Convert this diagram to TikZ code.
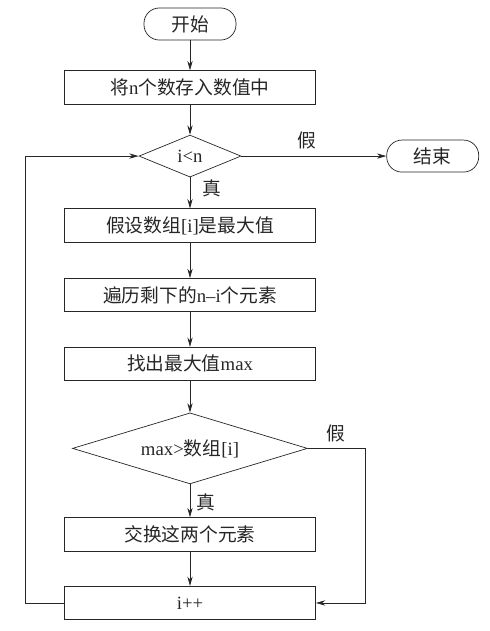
\documentclass[tikz,border=0pt]{standalone}
\usepackage{fontspec}
\setmainfont{Liberation Serif}
\newfontfamily\cjk{Noto Sans CJK SC}
\usetikzlibrary{arrows.meta,positioning,shapes.geometric}

\begin{document}
\begin{tikzpicture}[>={Stealth[length=8pt,width=4.5pt]}, line width=0.6pt, draw=black!85,
  every node/.style={font=\fontsize{16}{19}\selectfont, text=black!85},
  termbox/.style={draw,rounded corners=13pt,minimum width=2.76cm,minimum height=0.96cm,inner sep=0pt},
  procbox/.style={draw,minimum width=7.53cm,minimum height=1cm,inner sep=0pt},
  decide/.style={draw,diamond,inner sep=0pt}]
\useasboundingbox (0,0) rectangle (14.7,-18.93);
\node[termbox] (start) at (5.7,-0.72) {\cjk 开始};
\node[procbox,below=0.9cm of start] (fill) {\cjk 将\rmfamily n\cjk 个数存入数值中};
\node[decide,below=0.91cm of fill,aspect=2.43,minimum width=3.06cm,minimum height=1.26cm] (d1) {i<n};
\node[termbox,right=4.35cm of d1] (stop) {\cjk 结束};
\node[procbox,below=0.93cm of d1] (assume) {\cjk 假设数组\rmfamily [i]\cjk 是最大值};
\node[procbox,below=1.07cm of assume] (scan) {\cjk 遍历剩下的\rmfamily n--i\cjk 个元素};
\node[procbox,below=1.04cm of scan] (findmax) {\cjk 找出最大值\rmfamily max};
\node[decide,below=0.95cm of findmax,aspect=3.31,minimum width=7.05cm,minimum height=2.13cm] (d2) {max>\cjk 数组\rmfamily [i]};
\node[procbox,below=0.99cm of d2] (swap) {\cjk 交换这两个元素};
\node[procbox,below=1.04cm of swap] (inc) {i++};
\coordinate[right=1.71cm of d2.east] (jog);
\coordinate[left=1.17cm of inc.west] (back);

\draw[->] (start) -- (fill);
\draw[->] (fill) -- (d1);
\draw[->] (d1) -- node[above=2pt,pos=0.45] {\cjk 假} (stop);
\draw[->] (d1) -- node[right=7pt,pos=0.35] {\cjk 真} (assume);
\draw[->] (assume) -- (scan);
\draw[->] (scan) -- (findmax);
\draw[->] (findmax) -- (d2);
\draw[->] (d2) -- node[right=2pt,pos=0.55] {\cjk 真} (swap);
\draw[->] (d2.east) -- node[above=2pt] {\cjk 假} (jog) |- (inc.east);
\draw[->] (swap) -- (inc);
\draw[->] (inc.west) -- (back) |- (d1.west);
\end{tikzpicture}
\end{document}
